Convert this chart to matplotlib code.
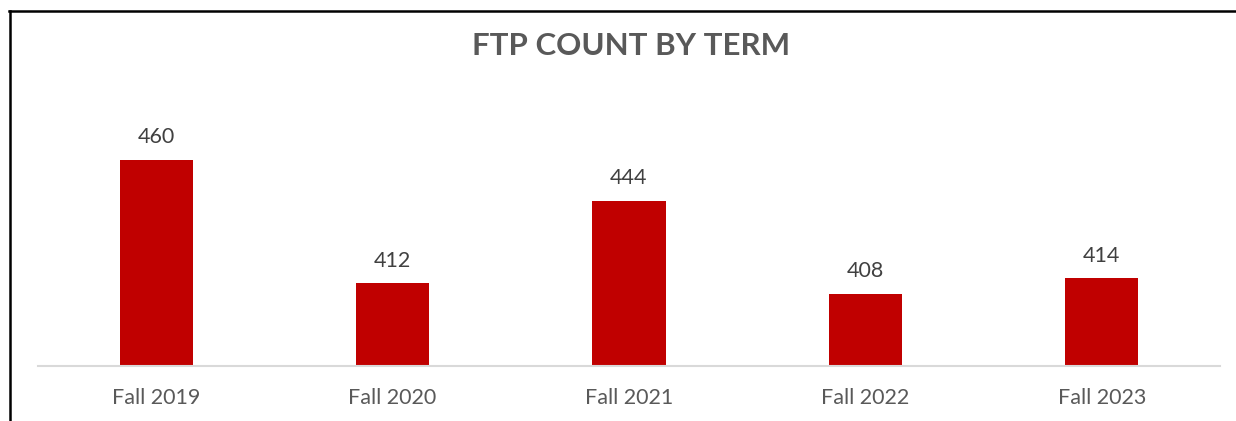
import matplotlib.pyplot as plt
from matplotlib.lines import Line2D

terms = ['Fall 2019', 'Fall 2020', 'Fall 2021', 'Fall 2022', 'Fall 2023']
counts = [460, 412, 444, 408, 414]

plt.rcParams['font.family'] = ['Lato', 'DejaVu Sans']

W, H = 1236, 421
fig = plt.figure(figsize=(W / 100, H / 100), dpi=100)
ax = fig.add_axes([38 / W, (H - 366) / H, (1220 - 38) / W, (366 - 108) / H])

x = range(len(terms))
bars = ax.bar(x, counts, width=0.31, color='#C00000', zorder=2)
ax.set_xlim(-0.5, len(terms) - 0.5)
ax.set_ylim(380, 480)

for b, v in zip(bars, counts):
    ax.annotate(str(v), (b.get_x() + b.get_width() / 2, v), xytext=(0, 9),
                textcoords='offset points', ha='center', va='bottom',
                fontsize=15.5, color='#404040')

ax.set_xticks(list(x))
ax.set_xticklabels(terms, fontsize=15.5, color='#595959')
ax.tick_params(axis='x', length=0, pad=16)
ax.set_yticks([])
for s in ['top', 'right', 'left']:
    ax.spines[s].set_visible(False)
ax.spines['bottom'].set_color('#D9D9D9')
ax.spines['bottom'].set_linewidth(1.5)

fig.text(631 / W, (H - 46) / H, 'FTP COUNT BY TERM', ha='center', va='center',
         fontsize=22.5, fontweight='bold', color='#595959')

# frame lines on top and left
fig.add_artist(Line2D([9 / W, 1], [(H - 11) / H, (H - 11) / H], color='black', lw=1.8))
fig.add_artist(Line2D([10 / W, 10 / W], [0, (H - 11) / H], color='black', lw=1.8))

fig.savefig('out.png', dpi=100, facecolor='white')
